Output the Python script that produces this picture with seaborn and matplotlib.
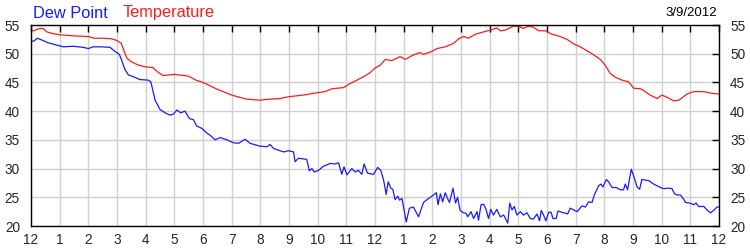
import matplotlib
matplotlib.use("Agg")
import matplotlib.pyplot as plt
import seaborn as sns
import pandas as pd

# ---- data ----
temp_hours = [0.0, 0.1, 0.3, 0.42, 0.55, 0.77, 1.0, 1.5, 2.0, 2.2, 2.5, 2.8, 3.0, 3.15, 3.25, 3.35,
              3.5, 3.75, 4.0, 4.25, 4.4, 4.6, 5.0, 5.5, 5.75, 6.0, 6.5, 7.0, 7.5, 8.0, 8.23, 8.69,
              8.97, 9.5, 9.97, 10.26, 10.5, 10.9, 11.13, 11.37, 11.6, 11.83, 12.0, 12.18, 12.36,
              12.59, 12.88, 13.05, 13.34, 13.58, 13.69, 13.99, 14.16, 14.45, 14.74, 14.92, 15.09,
              15.26, 15.5, 15.79, 16.08, 16.25, 16.37, 16.54, 16.83, 17.0, 17.18, 17.35, 17.53,
              17.71, 17.94, 18.17, 18.4, 18.7, 18.93, 19.16, 19.4, 19.63, 19.86, 20.03, 20.2,
              20.38, 20.62, 20.85, 21.02, 21.26, 21.37, 21.6, 21.84, 22.01, 22.19, 22.42, 22.6,
              22.89, 23.12, 23.47, 23.76, 23.93, 24.0]
temp_values = [54.0, 54.0, 54.4, 54.4, 53.8, 53.5, 53.3, 53.1, 53.0, 52.7, 52.7, 52.6, 52.3, 51.8, 50.4, 49.2,
               48.6, 48.0, 47.7, 47.6, 46.9, 46.2, 46.4, 46.1, 45.4, 45.0, 43.8, 42.8, 42.1, 41.9, 42.05, 42.2,
               42.5, 42.8, 43.2, 43.4, 43.9, 44.1, 44.8, 45.4, 46.0, 46.7, 47.5, 48.0, 49.0,
               48.8, 49.5, 49.0, 49.8, 50.2, 49.9, 50.4, 50.9, 51.2, 51.8, 52.6, 53.0,
               52.7, 53.4, 53.8, 54.2, 54.5, 54.0, 54.1, 54.8, 54.8, 54.4, 54.8, 54.6,
               54.0, 54.0, 53.4, 53.1, 52.5, 51.7, 51.2, 50.5, 49.8, 49.0, 48.0, 46.6,
               45.9, 45.4, 45.1, 44.0, 43.9, 43.6, 42.8, 42.2, 42.8, 42.4, 41.8, 41.9,
               43.0, 43.4, 43.4, 43.1, 43.0, 43.0]

dew_hours = [0.0, 0.1, 0.22, 0.37, 0.6, 0.9, 1.13, 1.48, 1.83, 2.0, 2.17, 2.47, 2.76, 2.93, 3.08, 3.16,
             3.28, 3.4, 3.57, 3.8, 4.09, 4.18, 4.33, 4.5, 4.68, 4.85, 4.97, 5.09, 5.22, 5.37, 5.53,
             5.67, 5.78, 5.96, 6.13, 6.25, 6.42, 6.6, 6.83, 7.06, 7.24, 7.47, 7.64, 7.99, 8.23,
             8.34, 8.46, 8.81, 8.98, 9.16, 9.21, 9.33, 9.62, 9.71, 9.8, 9.88, 10.03, 10.2, 10.44,
             10.61, 10.73, 10.84, 10.92, 11.02, 11.19, 11.31, 11.42, 11.54, 11.62, 11.74, 11.95,
             12.09, 12.2, 12.3, 12.39, 12.46, 12.55, 12.62, 12.7, 12.79, 12.86, 12.94, 13.09,
             13.2, 13.34, 13.52, 13.69, 13.87, 14.04, 14.14, 14.2, 14.28, 14.36, 14.45, 14.53,
             14.6, 14.72, 14.81, 14.88, 14.97, 15.09, 15.18, 15.23, 15.35, 15.44, 15.56, 15.61,
             15.7, 15.79, 15.88, 15.96, 16.04, 16.13, 16.25, 16.37, 16.49, 16.63, 16.7, 16.78,
             16.86, 16.95, 17.07, 17.18, 17.3, 17.42, 17.53, 17.65, 17.74, 17.8, 17.88, 17.96,
             18.06, 18.14, 18.21, 18.32, 18.38, 18.58, 18.72, 18.81, 18.93, 19.05, 19.22, 19.34,
             19.45, 19.57, 19.65, 19.8, 19.88, 19.95, 20.07, 20.15, 20.27, 20.42, 20.56, 20.67,
             20.73, 20.81, 20.94, 21.05, 21.14, 21.23, 21.31, 21.55, 21.72, 21.96, 22.07, 22.25,
             22.36, 22.45, 22.54, 22.65, 22.75, 22.83, 22.98, 23.12, 23.2, 23.29, 23.47, 23.58,
             23.71, 23.83, 23.93, 24.0]
dew_values = [52.2, 52.2, 52.7, 52.4, 51.9, 51.5, 51.2, 51.3, 51.1, 50.9, 51.2, 51.2, 51.1, 50.4, 49.9, 48.9,
              47.2, 46.3, 46.0, 45.5, 45.4, 45.1, 41.9, 40.3, 39.7, 39.3, 39.5, 40.2, 39.7, 40.0, 38.7,
              38.5, 37.4, 37.0, 36.2, 35.8, 35.0, 35.4, 35.0, 34.5, 34.4, 35.1, 34.4, 33.9, 33.8,
              34.2, 33.5, 32.9, 33.1, 32.9, 31.2, 31.8, 31.6, 29.6, 30.0, 29.4, 29.7, 30.4, 30.9,
              30.8, 31.0, 29.0, 30.3, 28.9, 30.0, 29.4, 29.7, 29.0, 30.8, 29.2, 29.0,
              30.2, 29.7, 28.0, 25.5, 27.7, 26.6, 26.4, 24.6, 25.2, 24.5, 24.8, 20.7,
              23.1, 23.3, 21.6, 24.1, 24.8, 25.4, 25.8, 23.7, 25.6, 24.2, 25.8, 24.8,
              24.1, 26.6, 24.0, 25.0, 22.7, 22.3, 22.2, 21.6, 22.5, 21.3, 22.5, 21.0,
              23.7, 23.8, 22.8, 21.3, 22.9, 21.9, 22.9, 21.6, 21.9, 20.5, 24.0, 22.8,
              23.4, 21.9, 22.5, 21.9, 22.3, 21.3, 21.2, 22.1, 20.9, 22.7, 21.9, 20.9,
              22.4, 22.4, 21.3, 21.3, 22.6, 22.3, 22.1, 23.1, 22.8, 22.5, 23.5, 23.3,
              24.2, 24.1, 25.4, 27.0, 27.3, 26.8, 28.1, 27.7, 26.7, 26.7, 26.3, 26.3,
              27.3, 26.3, 29.9, 28.3, 26.8, 26.4, 28.1, 27.9, 27.3, 26.7, 26.5, 26.6,
              26.5, 25.6, 25.4, 25.4, 24.8, 24.1, 24.0, 23.7, 24.0, 23.4, 23.4, 22.8,
              22.3, 22.8, 23.3, 23.3]

x_tick_labels = ["12", "1", "2", "3", "4", "5", "6", "7", "8", "9", "10", "11",
                 "12", "1", "2", "3", "4", "5", "6", "7", "8", "9", "10", "11", "12"]
y_ticks = [20, 25, 30, 35, 40, 45, 50, 55]
date_label = "3/9/2012"
series_names = ["Dew Point", "Temperature"]

df = pd.concat([
    pd.DataFrame({"hour": dew_hours, "value": dew_values, "series": series_names[0]}),
    pd.DataFrame({"hour": temp_hours, "value": temp_values, "series": series_names[1]}),
], ignore_index=True)

sns.set_style("white")
plt.rcParams["font.family"] = ["Liberation Sans", "DejaVu Sans"]

fig = plt.figure(figsize=(7.5, 2.5), dpi=100)
ax = fig.add_axes([31 / 750, 1 - 226 / 250, 688 / 750, 201 / 250])

palette = {"Dew Point": "#1a1aff", "Temperature": "#ff1a1a"}
sns.lineplot(data=df, x="hour", y="value", hue="series", palette=palette,
             estimator=None, sort=False, linewidth=0.9, legend=False, ax=ax)

ax.set_xlim(0, 24)
ax.set_ylim(20, 55)
ax.set_xticks(range(25))
ax.set_xticklabels(x_tick_labels)
ax.set_yticks(y_ticks)
ax.set_xlabel("")
ax.set_ylabel("")
ax.grid(True, color="#d0d0d0", linewidth=1.0)
ax.set_axisbelow(True)
for s in ax.spines.values():
    s.set_color("black")
    s.set_linewidth(1.0)
ax.tick_params(axis="both", direction="in", length=5, width=1, color="black",
               labelsize=9.8, top=True, right=True, labelright=True)
ax.tick_params(axis="x", pad=5)
ax.tick_params(axis="y", pad=8)

fig.text(33 / 750, 1 - 13 / 250, series_names[0], color="#1a1aff", fontsize=11.8, va="center", ha="left")
fig.text(123 / 750, 1 - 13 / 250, series_names[1], color="#ff1a1a", fontsize=11.8, va="center", ha="left")
fig.text(717 / 750, 1 - 13 / 250, date_label, color="black", fontsize=9.5, va="center", ha="right")

fig.savefig("out.png", dpi=100)
